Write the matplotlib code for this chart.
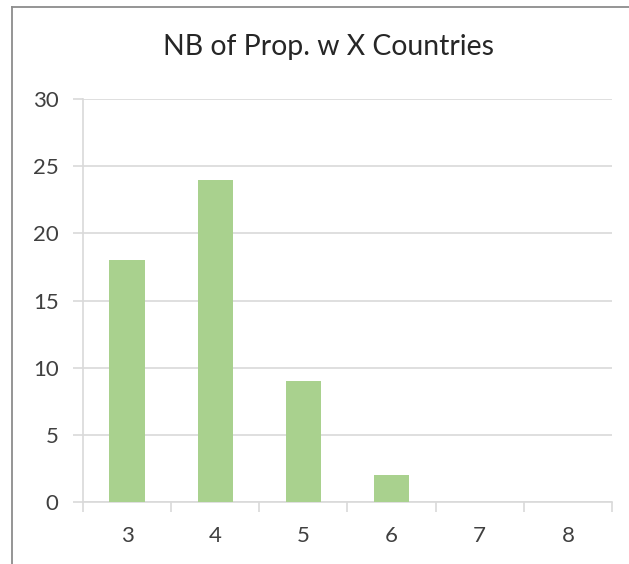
import matplotlib
matplotlib.use("Agg")
import matplotlib.pyplot as plt
from matplotlib.lines import Line2D

categories = ["3", "4", "5", "6", "7", "8"]
values = [18, 24, 9, 2, 0, 0]
yticks = [0, 5, 10, 15, 20, 25, 30]
title = "NB of Prop. w X Countries"

plt.rcParams['font.family'] = ['Lato', 'DejaVu Sans']

fig = plt.figure(figsize=(6.29, 5.64), dpi=100)
ax = fig.add_axes([83/629, 1-502/564, (612-83)/629, (502-99)/564])

x = list(range(len(categories)))
ax.bar(x, values, width=0.4, color="#a9d18e", zorder=3)
ax.set_xlim(-0.5, len(categories)-0.5)
ax.set_ylim(0, 30)
ax.set_yticks(yticks)
ax.set_yticklabels([str(v) for v in yticks])
ax.yaxis.grid(True, color="#d9d9d9", linewidth=1.2, zorder=0)
ax.set_xticks(x)
ax.set_xticklabels(categories)
ax.set_xticks([i - 0.5 for i in range(len(categories)+1)], minor=True)
ax.tick_params(axis='x', which='major', length=0, pad=17.5, labelsize=16, labelcolor="#404040")
ax.tick_params(axis='x', which='minor', length=7.5, width=1.2, color="#d9d9d9", direction='out')
ax.tick_params(axis='y', which='major', length=7.5, width=1.2, color="#d9d9d9", pad=10, labelsize=16, labelcolor="#404040")
for s in ['top', 'right']:
    ax.spines[s].set_visible(False)
for s in ['left', 'bottom']:
    ax.spines[s].set_color("#d9d9d9")
    ax.spines[s].set_linewidth(1.2)

fig.text(328.5/629, 1-47.5/564, title, ha='center', va='center', fontsize=20.4, color="#262626")

fig.add_artist(Line2D([11.5/629, 1], [1-6.5/564, 1-6.5/564], transform=fig.transFigure, color="#8c8c8c", linewidth=1.3))
fig.add_artist(Line2D([11.5/629, 11.5/629], [0, 1-6.5/564], transform=fig.transFigure, color="#8c8c8c", linewidth=1.3))

fig.savefig("out.png", dpi=100, facecolor="white")
